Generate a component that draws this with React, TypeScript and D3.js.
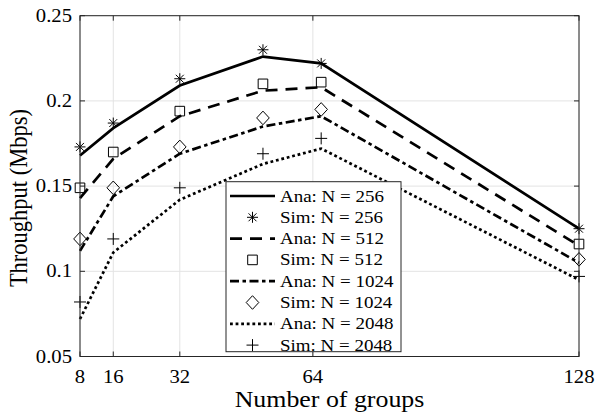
import React from "react";
import * as d3 from "d3";

const xVals = [8, 16, 32, 52, 66, 128];
const ana256 = [0.168, 0.184, 0.209, 0.226, 0.222, 0.125];
const sim256 = [0.173, 0.187, 0.213, 0.23, 0.222, 0.125];
const ana512 = [0.143, 0.166, 0.191, 0.206, 0.208, 0.115];
const sim512 = [0.149, 0.17, 0.194, 0.21, 0.211, 0.116];
const ana1024 = [0.112, 0.144, 0.169, 0.185, 0.191, 0.105];
const sim1024 = [0.119, 0.149, 0.173, 0.19, 0.195, 0.107];
const ana2048 = [0.072, 0.111, 0.142, 0.163, 0.172, 0.095];
const sim2048 = [0.082, 0.119, 0.149, 0.169, 0.178, 0.097];
const xTicks = [8, 16, 32, 64, 128];
const yTicks = [0.05, 0.1, 0.15, 0.2, 0.25];
const legendLabels = [
  "Ana: N = 256",
  "Sim: N = 256",
  "Ana: N = 512",
  "Sim: N = 512",
  "Ana: N = 1024",
  "Sim: N = 1024",
  "Ana: N = 2048",
  "Sim: N = 2048",
];

const W = 596;
const H = 412;
const L = 80, R = 579, T = 15.7, B = 356.5;
const S = 1.15; // horizontal text stretch
const FONT = "'Liberation Serif', 'Times New Roman', serif";
const INK = "#000";
const AX = "#262626";

const x = d3.scaleLinear().domain([8, 128]).range([L, R]);
const y = d3.scaleLinear().domain([0.05, 0.25]).range([B, T]);

type Marker = "star" | "square" | "diamond" | "plus";

function markerPath(m: Marker, cx: number, cy: number): string {
  const p = d3.path();
  if (m === "star") {
    const r = 5.5;
    const d = r * 0.72;
    p.moveTo(cx - r, cy); p.lineTo(cx + r, cy);
    p.moveTo(cx, cy - r); p.lineTo(cx, cy + r);
    p.moveTo(cx - d, cy - d); p.lineTo(cx + d, cy + d);
    p.moveTo(cx - d, cy + d); p.lineTo(cx + d, cy - d);
  } else if (m === "square") {
    const r = 4.8;
    p.rect(cx - r, cy - r, 2 * r, 2 * r);
  } else if (m === "diamond") {
    const rx = 6.3, ry = 6.8;
    p.moveTo(cx, cy - ry); p.lineTo(cx + rx, cy); p.lineTo(cx, cy + ry); p.lineTo(cx - rx, cy); p.closePath();
  } else {
    const r = 6;
    p.moveTo(cx - r, cy); p.lineTo(cx + r, cy);
    p.moveTo(cx, cy - r); p.lineTo(cx, cy + r);
  }
  return p.toString();
}

const lineGen = d3
  .line<[number, number]>()
  .x((d) => x(d[0]))
  .y((d) => y(d[1]));

const anaSeries = [
  { vals: ana256, dash: "none" },
  { vals: ana512, dash: "12,8" },
  { vals: ana1024, dash: "9,3.5,3.5,3.5" },
  { vals: ana2048, dash: "2.8,2.8" },
];
const simSeries: { vals: number[]; marker: Marker }[] = [
  { vals: sim256, marker: "star" },
  { vals: sim512, marker: "square" },
  { vals: sim1024, marker: "diamond" },
  { vals: sim2048, marker: "plus" },
];

export default function App() {
  const legX0 = 226, legX1 = 401, legY0 = 181.7, legY1 = 351.7;
  const rowY = (i: number) => 196 + i * 21.3;
  return (
    <svg
      width={W}
      height={H}
      viewBox={`0 0 ${W} ${H}`}
      style={{ position: "absolute", left: 0, top: 0, background: "#fff" }}
      fontFamily={FONT}
    >
      <rect x={0} y={0} width={W} height={H} fill="#fff" />
      {/* grid */}
      {xTicks.map((t) => (
        <line key={"gx" + t} x1={x(t)} x2={x(t)} y1={T} y2={B} stroke="#e3e3e3" strokeWidth={1} />
      ))}
      {yTicks.map((t) => (
        <line key={"gy" + t} x1={L} x2={R} y1={y(t)} y2={y(t)} stroke="#e3e3e3" strokeWidth={1} />
      ))}
      {/* lines */}
      {anaSeries.map((s, i) => (
        <path
          key={"a" + i}
          d={lineGen(xVals.map((xv, j) => [xv, s.vals[j]]) as [number, number][]) || ""}
          fill="none"
          stroke={INK}
          strokeWidth={2.7}
          strokeDasharray={s.dash}
          strokeLinejoin="miter"
        />
      ))}
      {/* markers */}
      {simSeries.map((s, i) =>
        xVals.map((xv, j) => (
          <path
            key={"m" + i + "-" + j}
            d={markerPath(s.marker, x(xv), y(s.vals[j]))}
            fill="none"
            stroke={INK}
            strokeWidth={1}
          />
        ))
      )}
      {/* box */}
      <rect x={L} y={T} width={R - L} height={B - T} fill="none" stroke={AX} strokeWidth={1} />
      {xTicks.map((t) => (
        <g key={"tx" + t}>
          <line x1={x(t)} x2={x(t)} y1={B} y2={B - 5} stroke={AX} />
          <line x1={x(t)} x2={x(t)} y1={T} y2={T + 5} stroke={AX} />
          <text
            transform={`translate(${x(t)},383) scale(${S},1)`}
            textAnchor="middle"
            fontSize={18}
            fill={INK}
          >
            {t}
          </text>
        </g>
      ))}
      {yTicks.map((t) => (
        <g key={"ty" + t}>
          <line x1={L} x2={L + 5} y1={y(t)} y2={y(t)} stroke={AX} />
          <line x1={R} x2={R - 5} y1={y(t)} y2={y(t)} stroke={AX} />
          <text
            transform={`translate(72,${y(t) + 6}) scale(${S},1)`}
            textAnchor="end"
            fontSize={18}
            fill={INK}
          >
            {String(t)}
          </text>
        </g>
      ))}
      {/* axis labels */}
      <text
        transform={`translate(${(L + R) / 2},407) scale(${S},1)`}
        textAnchor="middle"
        fontSize={22.5}
        fill={INK}
      >
        Number of groups
      </text>
      <text
        transform={`translate(27,${(T + B) / 2 + 12}) scale(${S},1) rotate(-90)`}
        textAnchor="middle"
        fontSize={22.5}
        fill={INK}
      >
        Throughput (Mbps)
      </text>
      {/* legend */}
      <rect x={legX0} y={legY0} width={legX1 - legX0} height={legY1 - legY0} fill="#fff" stroke={AX} strokeWidth={1} />
      {legendLabels.map((lab, i) => {
        const cy = rowY(i);
        const k = Math.floor(i / 2);
        const isAna = i % 2 === 0;
        return (
          <g key={"lg" + i}>
            {isAna ? (
              <line
                x1={230}
                x2={275}
                y1={cy}
                y2={cy}
                stroke={INK}
                strokeWidth={2.7}
                strokeDasharray={anaSeries[k].dash}
              />
            ) : (
              <path d={markerPath(simSeries[k].marker, 252.5, cy)} fill="none" stroke={INK} strokeWidth={1} />
            )}
            <text
              transform={`translate(280,${cy + 5.5}) scale(${S},1)`}
              fontSize={16.5}
              fill={INK}
            >
              {lab}
            </text>
          </g>
        );
      })}
    </svg>
  );
}
